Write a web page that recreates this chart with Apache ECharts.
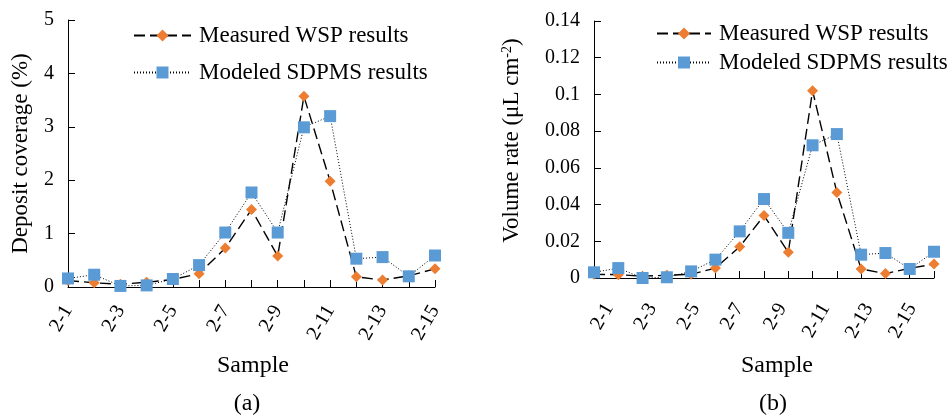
<!DOCTYPE html>
<html>
<head>
<meta charset="utf-8">
<script src="https://cdn.jsdelivr.net/npm/echarts@6/dist/echarts.min.js"></script>
<style>
  html, body { margin: 0; padding: 0; background: #fff; }
  #chart { width: 952px; height: 416px; }
</style>
</head>
<body>
<div id="chart"></div>
<script>
// samples 2-1 ... 2-15
var categories = ['2-1', '2-2', '2-3', '2-4', '2-5', '2-6', '2-7', '2-8', '2-9', '2-10', '2-11', '2-12', '2-13', '2-14', '2-15']
var seriesNames = ['Measured WSP results', 'Modeled SDPMS results']

// (a) deposit coverage, %
var coverageMeasured = [0.12, 0.08, 0.05, 0.09, 0.14, 0.25, 0.73, 1.45, 0.58, 3.57, 1.98, 0.19, 0.13, 0.21, 0.34]
var coverageModeled = [0.16, 0.23, 0.02, 0.03, 0.15, 0.41, 1.02, 1.77, 1.02, 2.99, 3.20, 0.53, 0.56, 0.20, 0.59]

// (b) volume rate, uL cm-2
var volumeMeasured = [0.0020, 0.0018, 0.0010, 0.0015, 0.0020, 0.0054, 0.0170, 0.0340, 0.0140, 0.1020, 0.0466, 0.0049, 0.0024, 0.0053, 0.0076]
var volumeModeled = [0.0031, 0.0054, 0.0000, 0.0004, 0.0036, 0.0100, 0.0254, 0.0430, 0.0246, 0.0723, 0.0784, 0.0127, 0.0136, 0.0049, 0.0143]

var panelLabels = ['(a)', '(b)']
var xTitle = 'Sample'

var FONT = '"Liberation Serif", "Times New Roman", serif'

var myChart = echarts.init(document.getElementById('chart'), null, { renderer: 'canvas' })

function valueAxis (gridIndex, max, interval, name, nameGap, shiftUp) {
  return {
    type: 'value',
    gridIndex: gridIndex,
    min: 0,
    max: max,
    interval: interval,
    name: name,
    nameLocation: 'middle',
    nameRotate: 90,
    nameGap: nameGap,
    nameTextStyle: {
      fontFamily: FONT,
      fontSize: 23,
      color: '#000',
      padding: [0, 0, 0, shiftUp],
      rich: {
        sup: { fontFamily: FONT, fontSize: 14, color: '#000', verticalAlign: 'top' }
      }
    },
    axisLine: { show: true, lineStyle: { color: '#000', width: 1 } },
    axisTick: { show: true, inside: true, length: 7, lineStyle: { color: '#000' } },
    axisLabel: { fontFamily: FONT, fontSize: 20, color: '#000', margin: 14 },
    splitLine: { show: false }
  }
}

function categoryAxis (gridIndex, showLabels, margin) {
  return {
    type: 'category',
    gridIndex: gridIndex,
    data: categories,
    boundaryGap: false,
    axisLine: { show: gridIndex !== 2, lineStyle: { color: '#000', width: 1 } },
    axisTick: { show: gridIndex !== 2, inside: true, length: 7, interval: 0, lineStyle: { color: '#000' } },
    axisLabel: {
      show: showLabels,
      interval: 1,
      rotate: 60,
      margin: margin,
      fontFamily: FONT,
      fontSize: 20,
      color: '#000'
    },
    splitLine: { show: false }
  }
}

function lineSeries (name, data, idx, dashed) {
  return {
    name: name,
    type: 'line',
    xAxisIndex: idx,
    yAxisIndex: idx,
    data: data,
    symbol: dashed ? 'diamond' : 'rect',
    symbolSize: dashed ? 11 : 12,
    showSymbol: true,
    animation: false,
    lineStyle: dashed
      ? { color: '#000', width: 1.4, type: [11, 5] }
      : { color: '#000', width: 1, type: [1, 2] },
    itemStyle: { color: dashed ? '#ED7D31' : '#5B9BD5' },
    z: dashed ? 2 : 3
  }
}

function legend (left, top, itemWidth, gap) {
  return {
    orient: 'vertical',
    left: left,
    top: top,
    padding: 0,
    itemWidth: itemWidth,
    itemHeight: 15,
    itemGap: gap,
    data: seriesNames,
    textStyle: { fontFamily: FONT, fontSize: 23, color: '#000', padding: [0, 0, 0, 3] }
  }
}

function label (x, y, text) {
  return {
    type: 'text',
    x: x,
    y: y,
    style: { text: text, fontFamily: FONT, fontSize: 24, fill: '#000', align: 'center', verticalAlign: 'middle' }
  }
}

var option = {
  backgroundColor: '#fff',
  animation: false,
  grid: [
    { left: 68, top: 20, width: 367, height: 267, outerBoundsMode: 'none' },
    { left: 594, top: 21, width: 340, height: 257, outerBoundsMode: 'none' },
    // label-only axis for panel (b), offset like the original
    { left: 609, top: 21, width: 303, height: 257, outerBoundsMode: 'none' }
  ],
  legend: [
    legend(133, 24, 57, 14),
    legend(656, 22, 54, 6)
  ],
  xAxis: [
    categoryAxis(0, true, 20),
    categoryAxis(1, false, 20),
    categoryAxis(2, true, 27)
  ],
  yAxis: [
    valueAxis(0, 5, 1, 'Deposit coverage (%)', 36, 0),
    valueAxis(1, 0.14, 0.02, 'Volume rate (μL cm{sup|-2})', 71, 18),
    { type: 'value', gridIndex: 2, min: 0, max: 1, show: false }
  ],
  series: [
    lineSeries(seriesNames[0], coverageMeasured, 0, true),
    lineSeries(seriesNames[1], coverageModeled, 0, false),
    lineSeries(seriesNames[0], volumeMeasured, 1, true),
    lineSeries(seriesNames[1], volumeModeled, 1, false)
  ],
  graphic: [
    label(253, 366, xTitle),
    label(777, 366, xTitle),
    label(247, 404, panelLabels[0]),
    label(773, 404, panelLabels[1])
  ]
}

myChart.setOption(option)
</script>
</body>
</html>
